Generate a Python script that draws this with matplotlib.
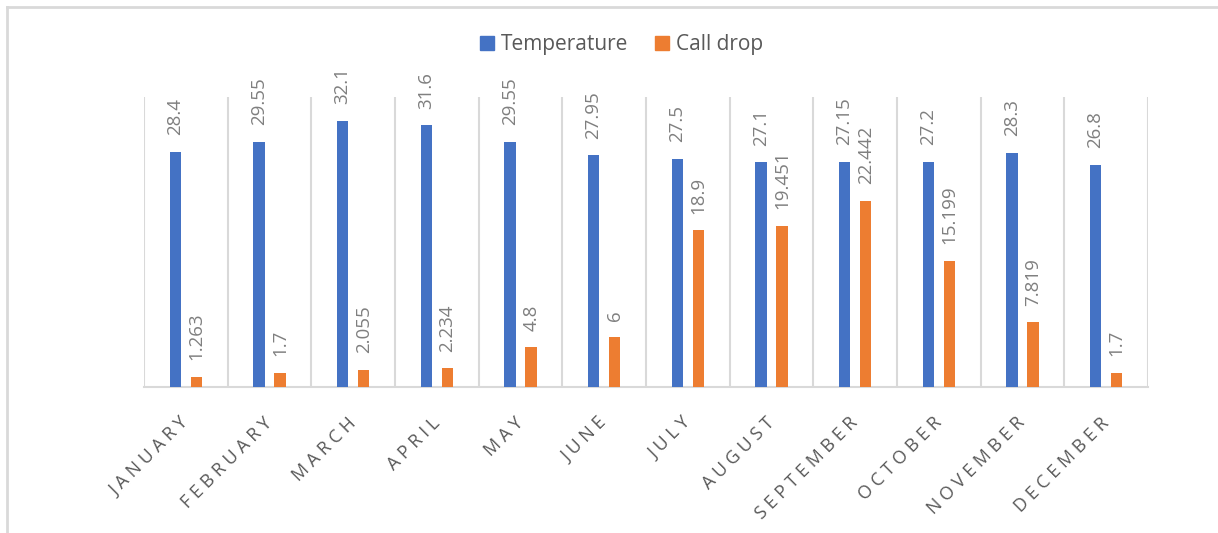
import matplotlib
matplotlib.use("Agg")
import matplotlib.pyplot as plt
import numpy as np
from matplotlib.lines import Line2D
from matplotlib.patches import Patch

months = ["JANUARY", "FEBRUARY", "MARCH", "APRIL", "MAY", "JUNE", "JULY",
          "AUGUST", "SEPTEMBER", "OCTOBER", "NOVEMBER", "DECEMBER"]
temperature = [28.4, 29.55, 32.1, 31.6, 29.55, 27.95, 27.5, 27.1, 27.15, 27.2, 28.3, 26.8]
call_drop = [1.263, 1.7, 2.055, 2.234, 4.8, 6, 18.9, 19.451, 22.442, 15.199, 7.819, 1.7]

BLUE = "#4472C4"
ORANGE = "#ED7D31"
GRID = "#D9D9D9"
TEXT = "#595959"
LABEL = "#7F7F7F"
FONT = "Open Sans"

plt.rcParams["font.family"] = [FONT, "DejaVu Sans"]

fig = plt.figure(figsize=(12.18, 5.33), dpi=100)
W, H = 1218, 533
ax = fig.add_axes([144 / W, 1 - 387 / H, (1148 - 144) / W, (387 - 97) / H])

x = np.arange(len(months))
bw = 0.135
off = 0.127
b1 = ax.bar(x - off, temperature, bw, color=BLUE, zorder=3)
b2 = ax.bar(x + off, call_drop, bw, color=ORANGE, zorder=3)

for bars, vals in ((b1, temperature), (b2, call_drop)):
    for rect, v in zip(bars, vals):
        ax.annotate(f"{v:g}", (rect.get_x() + rect.get_width() / 2, v),
                    xytext=(0, 12), textcoords="offset points",
                    rotation=90, ha="center", va="bottom",
                    fontsize=13.5, color=LABEL)

ax.set_xlim(-0.5, len(months) - 0.5)
ax.set_ylim(0, 35)
ax.set_yticks([])

# vertical separators between categories
for b in np.arange(-0.5, len(months), 1.0):
    ax.axvline(b, color=GRID, lw=1.5, zorder=1)

for s in ("top", "left", "right"):
    ax.spines[s].set_visible(False)
ax.spines["bottom"].set_color(GRID)
ax.spines["bottom"].set_linewidth(1.5)

ax.set_xticks(x)
spaced = [" ".join(m) for m in months]
ax.set_xticklabels(spaced, rotation=45, rotation_mode="anchor",
                   ha="right", va="center", fontsize=13, color=TEXT)
ax.tick_params(axis="x", length=0, pad=24)

handles = [Patch(color=BLUE, label="Temperature"), Patch(color=ORANGE, label="Call drop")]
fig.legend(handles=handles, loc="center", bbox_to_anchor=(0.51, 1 - 45 / H),
           ncol=2, frameon=False, fontsize=15, labelcolor=TEXT,
           handlelength=0.7, handleheight=0.7, handletextpad=0.3,
           columnspacing=1.3)

# chart frame
fig.add_artist(Line2D([7 / W, 7 / W], [0, 1 - 7 / H], transform=fig.transFigure,
                      color=GRID, lw=2))
fig.add_artist(Line2D([7 / W, 1], [1 - 7 / H, 1 - 7 / H], transform=fig.transFigure,
                      color=GRID, lw=2))

fig.savefig("out.png", dpi=100)
